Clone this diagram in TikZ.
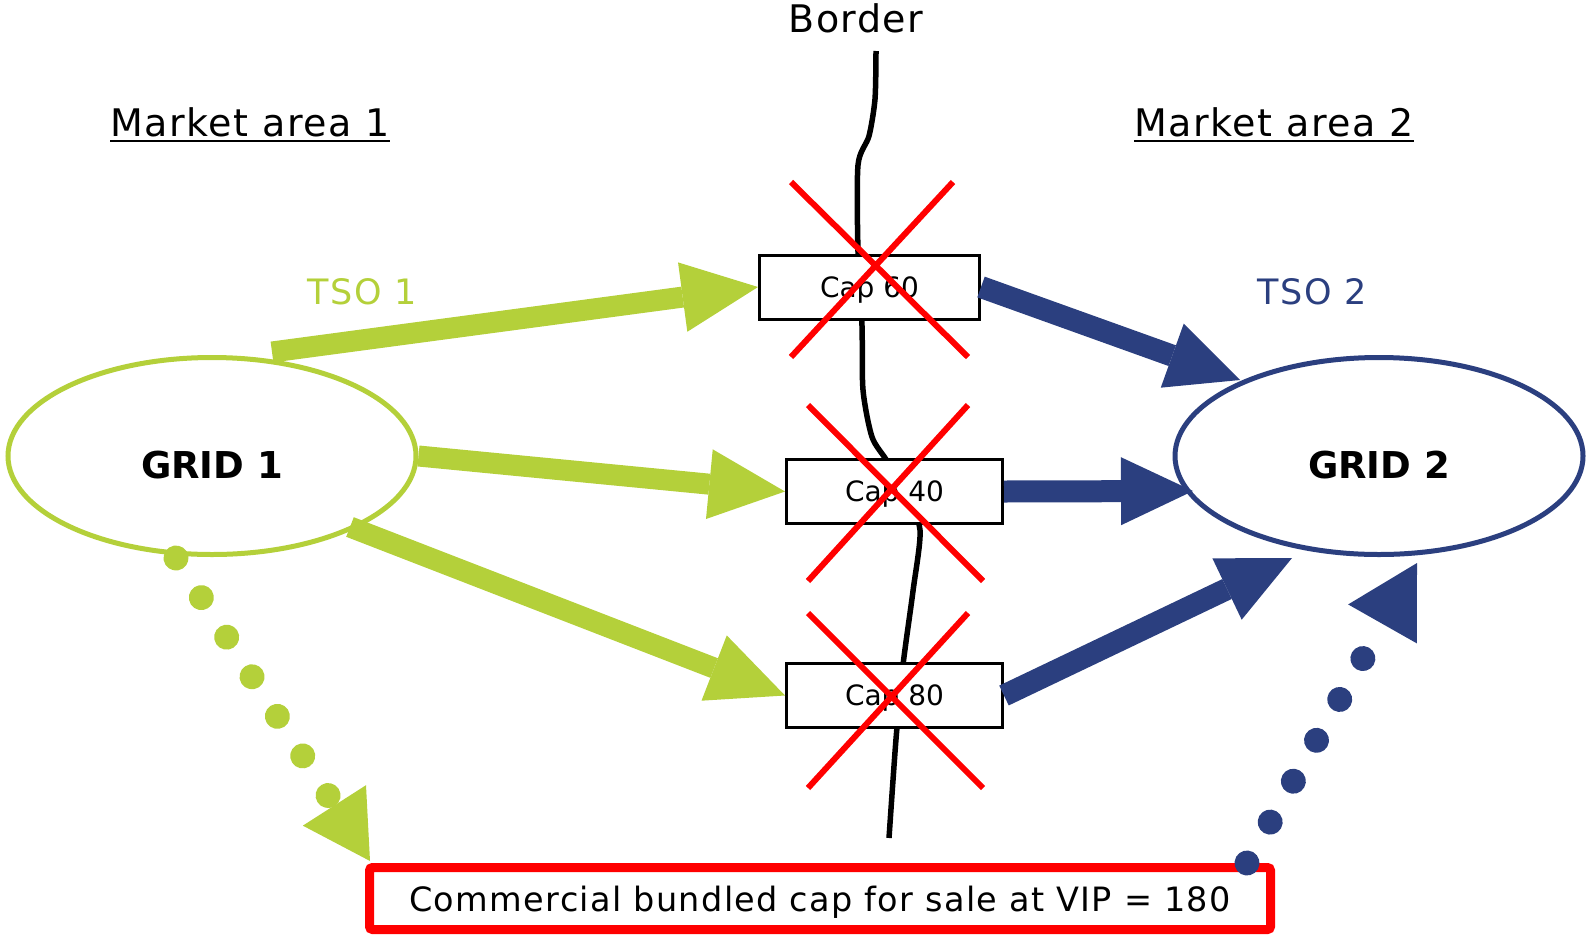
\documentclass[tikz,border=0pt]{standalone}
\usepackage{fontspec}
\setmainfont{DejaVu Sans}
\newfontfamily\spacedfont[LetterSpace=4]{DejaVu Sans}
\usetikzlibrary{arrows.meta,shapes.geometric,calc}
\definecolor{tsogreen}{RGB}{180,208,58}
\definecolor{tsoblue}{RGB}{43,63,127}
\definecolor{capred}{RGB}{255,0,0}

\begin{document}
\begin{tikzpicture}[x=1pt,y=-1pt,
  lbl/.style={inner sep=0pt, anchor=base},
  heading/.style={lbl, font=\spacedfont\fontsize{38}{40}\selectfont},
  tso/.style={lbl, font=\spacedfont\fontsize{35}{38}\selectfont},
  grid/.style={ellipse, line width=5pt, minimum width=408pt, minimum height=197pt,
    inner sep=0pt, text height=45pt, text depth=0pt,
    font=\fontsize{37}{40}\selectfont\bfseries},
  capbox/.style={draw, line width=3pt, fill=white, minimum width=216pt,
    minimum height=64pt, inner sep=0pt, text depth=0pt,
    font=\fontsize{28}{30}\selectfont},
  flowgreen/.style={draw=tsogreen, line width=21pt,
    -{Triangle[length=76pt,width=70pt,line width=0pt]}},
  flowblue/.style={draw=tsoblue, line width=22pt,
    -{Triangle[length=72pt,width=68pt,line width=0pt]}},
  dotflow/.style={line width=25pt, line cap=round, dash pattern=on 0.01pt off 46.99pt},
  crossout/.style={draw=capred, line width=6pt},
]
\useasboundingbox (0,0) rectangle (1589,937);

% headings
\node[lbl, font=\spacedfont\fontsize{38}{40}\selectfont] (border) at (856,32) {Border};
\node[heading] (ma1) at (250,136) {Market area 1};
\node[heading] (ma2) at (1274,136) {Market area 2};
\draw[line width=2.5pt] ($(ma1.base west)+(0,5)$) -- ($(ma1.base east)+(0,5)$);
\draw[line width=2.5pt] ($(ma2.base west)+(0,5)$) -- ($(ma2.base east)+(0,5)$);
\node[tso, text=tsogreen] (tso1) at (362,304) {TSO 1};
\node[tso, text=tsoblue] (tso2) at (1312,304) {TSO 2};

% the two grids
\node[grid, draw=tsogreen] (g1) at (212,456) {GRID 1};
\node[grid, draw=tsoblue] (g2) at (1379,456) {GRID 2};

% border line
\draw[line width=5.5pt, line join=round]
  plot[smooth, tension=0.45] coordinates {(876,51) (875,99) (869,136) (858,165)
   (858,252) (862,326) (863,390) (872,437) (887,461) (905,494) (920,530)
   (913,591) (903,665) (896,739) (889,838)};

% interconnection points
\node[capbox, minimum width=220pt] (c60) at (869.5,287) {Cap 60};
\node[capbox] (c40) at (894.5,491.5) {Cap 40};
\node[capbox] (c80) at (894.5,695.5) {Cap 80};

% end points on the grids
\coordinate (g1top) at (272,352);
\coordinate (g1low) at (350,527);
\coordinate (g2a) at (1240,380);
\coordinate (g2b) at (1193,491);
\coordinate (g2c) at (1292,558);

% physical flows
\draw[flowgreen] (g1top) -- (c60.west);
\draw[flowgreen] (g1.east) -- (c40.west);
\draw[flowgreen] (g1low) -- (c80.west);
\draw[flowblue] (c60.east) -- (g2a);
\draw[flowblue] (c40.east) -- (g2b);
\draw[flowblue] (c80.east) -- (g2c);

% crossed-out capacities
\draw[crossout] (791,182) -- (968,357) (953,182) -- (791,357);
\draw[crossout] (808,405) -- (983,581) (968,405) -- (808,581);
\draw[crossout] (808,613) -- (983,788) (968,613) -- (808,788);

% bundled capacity at the virtual point
\node[draw=capred, line width=9pt, rounded corners=3pt, minimum width=901pt,
  minimum height=62pt, inner sep=0pt, text depth=0pt,
  font=\spacedfont\fontsize{33.5}{36}\selectfont] (vip) at (820,898.5)
  {Commercial bundled cap for sale at VIP = 180};

% commercial flows
\coordinate (g1dot) at (176,558);
\coordinate (vipin) at (370,861);
\coordinate (vipout) at (1247,863);
\coordinate (g2dot) at (1417,563);
\draw[dotflow, draw=tsogreen, -{Triangle[length=66pt,width=75pt,line width=0pt]}]
  (g1dot) -- (vipin);
\draw[dotflow, draw=tsoblue, -{Triangle[length=70pt,width=79pt,line width=0pt]}]
  (vipout) -- (g2dot);
\end{tikzpicture}
\end{document}
